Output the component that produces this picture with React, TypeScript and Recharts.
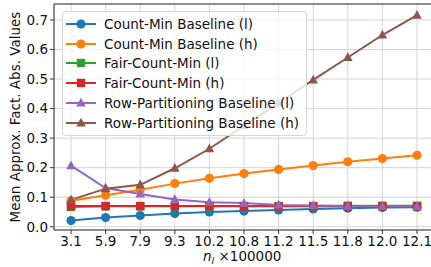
import React from 'react'
import {CartesianGrid, Line, LineChart, ReferenceLine, XAxis, YAxis} from 'recharts'

const categories = ['3.1', '5.9', '7.9', '9.3', '10.2', '10.8', '11.2', '11.5', '11.8', '12.0', '12.1']
const cmLow = [0.021, 0.031, 0.038, 0.045, 0.050, 0.053, 0.057, 0.060, 0.063, 0.065, 0.066]
const cmHigh = [0.088, 0.107, 0.125, 0.146, 0.164, 0.180, 0.194, 0.207, 0.220, 0.231, 0.242]
const fairLow = [0.067, 0.069, 0.069, 0.069, 0.069, 0.070, 0.070, 0.070, 0.071, 0.071, 0.071]
const fairHigh = [0.070, 0.070, 0.070, 0.070, 0.070, 0.069, 0.069, 0.069, 0.069, 0.069, 0.069]
const rpLow = [0.207, 0.131, 0.111, 0.092, 0.083, 0.080, 0.074, 0.072, 0.070, 0.069, 0.069]
const rpHigh = [0.091, 0.129, 0.142, 0.198, 0.264, 0.342, 0.419, 0.497, 0.573, 0.649, 0.716]
const yTicks = [0, 0.1, 0.2, 0.3, 0.4, 0.5, 0.6, 0.7]

const FONT = '"DejaVu Sans", sans-serif'
const FS = 13.5

const SERIES = [
    {key: 'cmLow', name: 'Count-Min Baseline (l)', color: '#1f77b4', marker: 'circle'},
    {key: 'cmHigh', name: 'Count-Min Baseline (h)', color: '#ff7f0e', marker: 'circle'},
    {key: 'fairLow', name: 'Fair-Count-Min (l)', color: '#2ca02c', marker: 'square'},
    {key: 'fairHigh', name: 'Fair-Count-Min (h)', color: '#d62728', marker: 'square'},
    {key: 'rpLow', name: 'Row-Partitioning Baseline (l)', color: '#9467bd', marker: 'triangle'},
    {key: 'rpHigh', name: 'Row-Partitioning Baseline (h)', color: '#8c564b', marker: 'triangle'},
]

const data = categories.map((c, i) => ({
    cat: c,
    cmLow: cmLow[i],
    cmHigh: cmHigh[i],
    fairLow: fairLow[i],
    fairHigh: fairHigh[i],
    rpLow: rpLow[i],
    rpHigh: rpHigh[i],
}))

function Marker({x, y, shape, color}: {x: number, y: number, shape: string, color: string}) {
    if (shape === 'square') {
        return <rect x={x - 4.2} y={y - 4.2} width={8.4} height={8.4} fill={color}/>
    }
    if (shape === 'triangle') {
        return <polygon points={`${x},${y - 5.2} ${x - 4.8},${y + 3.6} ${x + 4.8},${y + 3.6}`} fill={color}/>
    }
    return <circle cx={x} cy={y} r={4.6} fill={color}/>
}

const makeDot = (shape: string, color: string) => (props: any) => {
    const {cx, cy, index} = props
    if (cx == null || cy == null) return <g key={`d-${index}`}/>
    return (
        <g key={`d-${shape}-${index}`}>
            <Marker x={cx} y={cy} shape={shape} color={color}/>
        </g>
    )
}

// legend drawn over the plot, like matplotlib's framed legend
const LegendBox = () => (
    <div style={{
        position: 'absolute', left: 62, top: 11, width: 245, height: 125,
        background: 'rgba(255,255,255,0.8)', border: '1px solid #d6d6d6',
        borderRadius: 4, boxSizing: 'border-box', paddingTop: 2, fontFamily: FONT, fontSize: FS,
        pointerEvents: 'none',
    }}>
        {SERIES.map(s => (
            <div key={s.key} style={{display: 'flex', alignItems: 'center', height: 19.8}}>
                <svg width={39} height={14} style={{marginLeft: 2, flex: 'none'}}>
                    <line x1={1} y1={7} x2={31} y2={7} stroke={s.color} strokeWidth={2}/>
                    <Marker x={16} y={7} shape={s.marker} color={s.color}/>
                </svg>
                <span style={{color: '#111', whiteSpace: 'nowrap'}}>{s.name}</span>
            </div>
        ))}
    </div>
)

const XLabel = (props: any) => {
    const {viewBox} = props
    const cx = viewBox.x + viewBox.width / 2
    return (
        <text x={cx - 41} y={viewBox.y + 31} fontFamily={FONT} fontSize={FS} fill="#111">
            <tspan fontStyle="italic">n</tspan>
            <tspan fontStyle="italic" fontSize={9.5} dy={3}>l</tspan>
            <tspan dy={-3}> ×100000</tspan>
        </text>
    )
}

export default function App() {
    return (
        <div style={{position: 'fixed', left: 0, top: 0, width: 431, height: 267, overflow: 'hidden', background: '#fff'}}>
            <LineChart width={440} height={267} data={data} margin={{top: 4, right: 6, bottom: 0, left: 0}}>
                <CartesianGrid stroke="#d4d4d4" strokeWidth={1}/>
                <XAxis
                    dataKey="cat"
                    padding={{left: 17, right: 17}}
                    height={37}
                    tickSize={4}
                    tickMargin={2}
                    interval={0}
                    axisLine={{stroke: '#333'}}
                    tickLine={{stroke: '#333'}}
                    tick={{fontFamily: FONT, fontSize: FS, fill: '#111'}}
                    label={<XLabel/>}
                />
                <YAxis
                    domain={[-0.011, 0.754]}
                    ticks={yTicks}
                    width={54}
                    tickSize={4}
                    tickMargin={2}
                    allowDataOverflow
                    axisLine={{stroke: '#333'}}
                    tickLine={{stroke: '#333'}}
                    tickFormatter={(v: number) => v.toFixed(1)}
                    tick={{fontFamily: FONT, fontSize: FS, fill: '#111'}}
                    label={{
                        value: 'Mean Approx. Fact. Abs. Values', angle: -90, position: 'insideLeft',
                        offset: 15, style: {textAnchor: 'middle', fontFamily: FONT, fontSize: FS, fill: '#111'},
                    }}
                />
                <ReferenceLine y={0.754} stroke="#333"/>
                {SERIES.map(s => (
                    <Line
                        key={s.key}
                        dataKey={s.key}
                        name={s.name}
                        stroke={s.color}
                        strokeWidth={2}
                        dot={makeDot(s.marker, s.color)}
                        activeDot={false}
                        isAnimationActive={false}
                    />
                ))}
            </LineChart>
            <LegendBox/>
        </div>
    )
}
